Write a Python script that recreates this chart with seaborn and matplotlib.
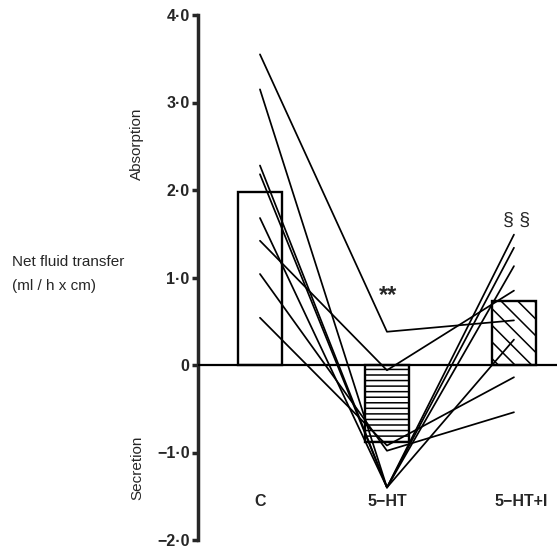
import matplotlib
matplotlib.use('Agg')
import matplotlib.pyplot as plt
import seaborn as sns
import pandas as pd
import numpy as np

# ── Data ───────────────────────────────────────────────────────────────────────
groups = ['C', '5\u2212HT', '5\u2212HT+I']
group_pos = [0, 1, 2]
group_means = [1.98, -0.88, 0.73]

# individual experiments (one line each): C -> 5-HT -> 5-HT+I
vals_c = [3.55, 3.15, 2.28, 2.18, 1.68, 1.42, 1.04, 0.54]
vals_5ht = [0.38, -1.40, -1.40, -1.40, -1.40, -0.06, -0.98, -0.92]
vals_5hti = [0.51, 1.49, 1.34, 1.13, 0.29, 0.85, -0.54, -0.14]

yticks = [-2, -1, 0, 1, 2, 3, 4]
ytick_labels = ['\u22122\u00b70', '\u22121\u00b70', '0', '1\u00b70', '2\u00b70', '3\u00b70', '4\u00b70']

# ── Long table for the subject lines ───────────────────────────────────────────
rows = []
for i in range(len(vals_c)):
    for p, v in zip(group_pos, [vals_c[i], vals_5ht[i], vals_5hti[i]]):
        rows.append({'subject': i, 'pos': p, 'value': v})
lines_df = pd.DataFrame(rows)
bars_df = pd.DataFrame({'pos': group_pos, 'mean': group_means})

sns.set_style('white')
plt.rcParams['font.family'] = ['Liberation Sans', 'DejaVu Sans']
plt.rcParams['hatch.linewidth'] = 1.1

fig = plt.figure(figsize=(5.57, 5.5), dpi=100)
ax = fig.add_axes([198 / 557, 10 / 550, 359 / 557, 525 / 550])

# ── Bars ───────────────────────────────────────────────────────────────────────
sns.barplot(data=bars_df, x='pos', y='mean', native_scale=True, width=0.34,
            color='white', edgecolor='black', linewidth=1.7, ax=ax, zorder=1)
hatches = ['', '---', '\\\\']
for patch, h in zip(ax.patches, hatches):
    patch.set_facecolor('white')
    patch.set_hatch(h)

# ── Individual lines ───────────────────────────────────────────────────────────
sns.lineplot(data=lines_df, x='pos', y='value', units='subject', estimator=None,
             color='black', linewidth=1.25, ax=ax, zorder=3, legend=False)

ax.axhline(0, color='black', linewidth=1.6, zorder=4)

# ── Axes styling ───────────────────────────────────────────────────────────────
ax.set_xlim(-0.488, 2.339)
ax.set_ylim(-2, 4)
ax.set_yticks(yticks)
ax.set_yticklabels(ytick_labels, fontsize=11.5, fontweight='bold')
ax.set_xticks([])
ax.set_xlabel('')
ax.set_ylabel('')
for s in ['top', 'right', 'bottom']:
    ax.spines[s].set_visible(False)
ax.spines['left'].set_linewidth(2.5)
ax.tick_params(axis='y', direction='out', length=4, width=2.5, pad=2, left=True)

for p, g in zip(group_pos, groups):
    ax.text(p + (0.06 if p == 2 else 0), -1.56, g, ha='center', va='center',
            fontsize=11.5, fontweight='bold')

ax.text(1.01, 0.79, '**', ha='center', va='center', fontsize=17, fontweight='bold')
ax.text(2.02, 1.65, '\u00a7 \u00a7', ha='center', va='center', fontsize=14)

fig.text(137 / 557, 1 - 144 / 550, 'Absorption', rotation=90, ha='center', va='center', fontsize=11)
fig.text(137 / 557, 1 - 468 / 550, 'Secretion', rotation=90, ha='center', va='center', fontsize=11)
fig.text(12 / 557, 1 - 262 / 550, 'Net fluid transfer', ha='left', va='center', fontsize=11)
fig.text(12 / 557, 1 - 286 / 550, '(ml / h x cm)', ha='left', va='center', fontsize=11)

fig.savefig('out.png', dpi=100)
plt.close()
